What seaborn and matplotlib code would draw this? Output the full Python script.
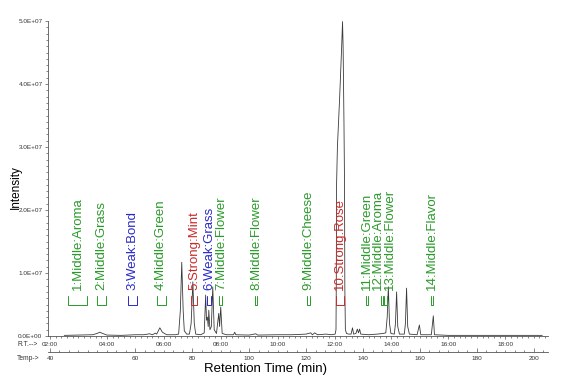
import numpy as np
import pandas as pd
import matplotlib
matplotlib.use("Agg")
import matplotlib.pyplot as plt
from matplotlib.ticker import MultipleLocator, FuncFormatter, FixedLocator
import seaborn as sns

# chromatogram trace (time in min, intensity in 1e6 counts)
trace_time = [2.5, 3.0, 3.5, 3.65, 3.75, 3.85, 4.0, 4.5, 5.0, 5.3, 5.5, 5.6, 5.7, 5.75,
              5.86, 5.95, 6.1, 6.4, 6.52, 6.58, 6.63, 6.68, 6.72, 6.76, 6.8, 6.9, 6.96,
              7.02, 7.07, 7.12, 7.3, 7.42, 7.47, 7.5, 7.53, 7.56, 7.58, 7.62, 7.67, 7.72,
              7.77, 7.85, 7.93, 7.96, 8.0, 8.05, 8.2, 8.45, 8.49, 8.53, 9.0, 9.23, 9.3,
              10.0, 10.5, 11.0, 11.16, 11.22, 11.3, 11.4, 11.7, 11.9, 12.02, 12.05, 12.06,
              12.07, 12.10, 12.18, 12.25, 12.28, 12.30, 12.33, 12.35, 12.36, 12.38, 12.42,
              12.5, 12.58, 12.63, 12.67, 12.75, 12.8, 12.84, 12.88, 12.92, 13.2, 13.5, 13.7,
              13.8, 13.85, 13.89, 13.93, 13.98, 14.1, 14.14, 14.18, 14.22, 14.28, 14.45,
              14.49, 14.53, 14.57, 14.63, 14.9, 14.98, 15.03, 15.4, 15.47, 15.51, 16.0,
              17.0, 18.0, 19.3]
trace_int = [0.1, 0.15, 0.2, 0.4, 0.6, 0.4, 0.15, 0.1, 0.2, 0.2, 0.35, 0.2, 0.45, 0.3,
             1.3, 0.6, 0.2, 0.2, 0.3, 4.0, 11.7, 4.0, 0.8, 0.6, 0.3, 0.3, 2.0,
             8.6, 2.0, 0.3, 0.2, 0.5, 6.5, 2.5, 3.0, 1.5, 4.1, 1.0, 1.5, 7.8,
             1.0, 0.4, 3.6, 1.5, 4.6, 0.4, 0.2, 0.2, 0.6, 0.2, 0.15, 0.35, 0.15,
             0.2, 0.2, 0.3, 0.5, 0.2, 0.5, 0.2, 0.3, 0.2, 0.3, 1.0, 8.0,
             24.0, 30.0, 38.0, 46.0, 49.9, 46.0, 34.0, 24.0, 8.0, 1.0, 0.4,
             0.3, 0.3, 1.3, 0.3, 0.4, 1.1, 0.5, 1.1, 0.3, 0.2, 0.3, 0.4,
             0.5, 3.0, 7.8, 2.0, 0.4, 0.3, 2.0, 7.0, 1.5, 0.3, 0.3,
             2.0, 7.6, 1.5, 0.3, 0.2, 1.75, 0.2, 0.2, 3.2, 0.2, 0.1,
             0.1, 0.1, 0.1]

# sniffing annotations
peak_ids = list(range(1, 15))
peak_names = ["Middle:Aroma", "Middle:Grass", "Weak:Bond", "Middle:Green", "Strong:Mint",
              "Weak:Grass", "Middle:Flower", "Middle:Flower", "Middle:Cheese", "Strong:Rose",
              "Middle:Green", "Middle:Aroma", "Middle:Flower", "Middle:Flavor"]
peak_start = [2.63, 3.65, 4.73, 5.75, 6.97, 7.50, 7.95, 9.21, 11.03, 12.05, 13.10, 13.62, 13.73, 15.38]
peak_end = [3.30, 3.96, 5.05, 6.06, 7.15, 7.67, 8.06, 9.28, 11.14, 12.33, 13.17, 13.69, 13.83, 15.45]

# oven program: 40 C hold, then 10 C/min
temp_ticks = [40, 60, 80, 100, 120, 140, 160, 180, 200]
hold_end = 3.0
ramp = 10.0

colors = {"Middle": "#2a9a2a", "Weak": "#2a2ac8", "Strong": "#c82a2a"}
text_shift = {12: -0.14, 13: 0.16}

sns.set_theme(style="white")
plt.rcParams["font.family"] = ["Liberation Sans", "DejaVu Sans"]

df = pd.DataFrame({"time": trace_time, "intensity": np.array(trace_int) * 1e6})

fig = plt.figure(figsize=(5.61, 3.80), dpi=100)
ax = fig.add_axes([48 / 561, 44 / 380, 500 / 561, 315 / 380])

sns.lineplot(data=df, x="time", y="intensity", ax=ax, color="#3a3a3a",
             linewidth=0.6, estimator=None)

for pid, name, t0, t1 in zip(peak_ids, peak_names, peak_start, peak_end):
    c = colors[name.split(":")[0]]
    ax.plot([t0, t0, t1, t1], [6.3e6, 4.9e6, 4.9e6, 6.3e6], color=c, lw=0.7)
    xc = (t0 + t1) / 2 + text_shift.get(pid, 0)
    ax.text(xc, 7.3e6, f"{pid}:{name}", rotation=90, ha="center", va="bottom",
            color=c, fontsize=9.5)

ax.set_xlim(1.93, 19.5)
ax.set_ylim(0, 5e7)
ax.set_xlabel("")
ax.set_ylabel("")

for s in ["top", "right"]:
    ax.spines[s].set_visible(False)
for s in ["left", "bottom"]:
    ax.spines[s].set_color("#555555")
    ax.spines[s].set_linewidth(0.6)

ax.yaxis.set_major_locator(MultipleLocator(1e7))
ax.yaxis.set_minor_locator(MultipleLocator(1e6))
ax.yaxis.set_major_formatter(FuncFormatter(lambda v, _: f"{v:.1E}"))
ax.xaxis.set_major_locator(MultipleLocator(2))
ax.xaxis.set_minor_locator(MultipleLocator(0.2))
ax.xaxis.set_major_formatter(FuncFormatter(lambda v, _: f"{int(round(v)):02d}:00"))
ax.tick_params(which="both", direction="out", color="#555555", width=0.5,
               labelsize=4.6, labelcolor="#333333", pad=1.5,
               left=True, bottom=True)
ax.tick_params(which="major", length=2.5)
ax.tick_params(which="minor", length=1.5)

# temperature axis under the RT axis
temp_pos = [hold_end + (t - temp_ticks[0]) / ramp if t > temp_ticks[0] else 2.0
            for t in temp_ticks]
sec = ax.secondary_xaxis(-0.051)
sec.set_xticks(temp_pos, [str(t) for t in temp_ticks])
sec.xaxis.set_minor_locator(FixedLocator(np.arange(2.0, 19.5, 1 / 3)))
sec.tick_params(which="both", direction="in", color="#555555", width=0.5,
                labelsize=4.6, labelcolor="#333333", pad=2.5)
sec.tick_params(which="major", length=3)
sec.tick_params(which="minor", length=1.5)
sec.spines["bottom"].set_color("#555555")
sec.spines["bottom"].set_linewidth(0.6)

fig.text(17 / 561, 1 - 345 / 380, "R.T.-->", fontsize=4.8, color="#333333", va="center")
fig.text(17 / 561, 1 - 359 / 380, "Temp->", fontsize=4.8, color="#333333", va="center")
fig.text(266 / 561, 1 - 369 / 380, "Retention Time (min)", fontsize=9.5,
         ha="center", va="center", color="black")
fig.text(16 / 561, 1 - 187 / 380, "Intensity", fontsize=8.5, rotation=90,
         ha="center", va="center", color="black")

fig.savefig("out.png", dpi=100)
